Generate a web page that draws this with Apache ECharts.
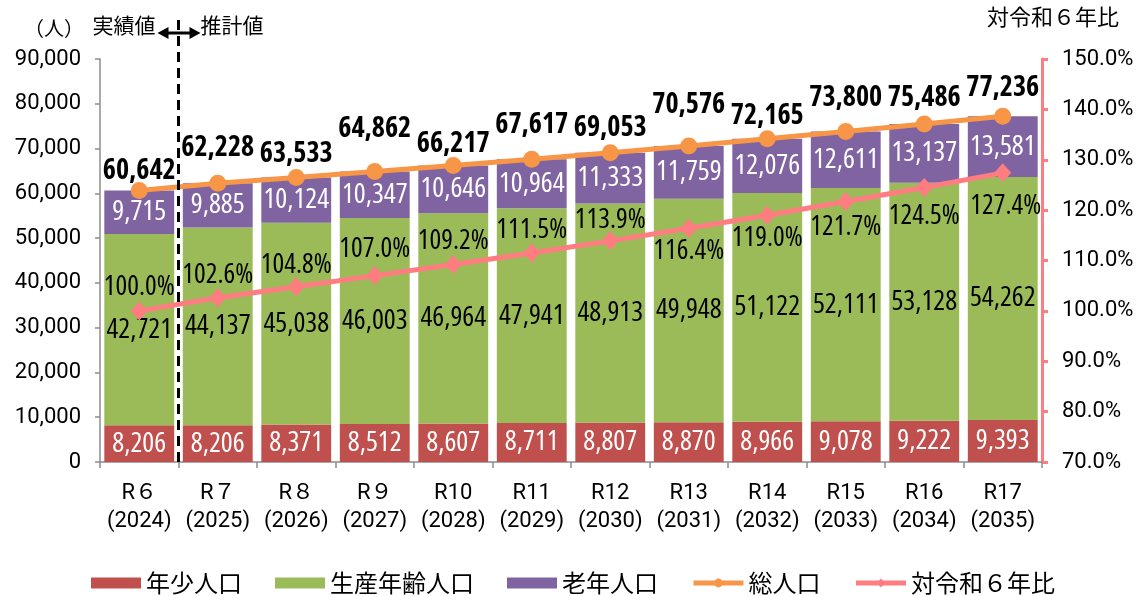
<!DOCTYPE html>
<html>
<head>
<meta charset="utf-8">
<script src="https://cdn.jsdelivr.net/npm/echarts@6/dist/echarts.min.js"></script>
<style>
  html, body { margin: 0; padding: 0; background: #fff; }
  #chart { width: 1146px; height: 596px; }
</style>
</head>
<body>
<div id="chart"></div>
<script>
// 年度
const categories = ['R６\n(2024)', 'R７\n(2025)', 'R８\n(2026)', 'R９\n(2027)', 'R10\n(2028)', 'R11\n(2029)',
  'R12\n(2030)', 'R13\n(2031)', 'R14\n(2032)', 'R15\n(2033)', 'R16\n(2034)', 'R17\n(2035)'];
// 年齢区分別人口（人）
const youngPop   = [8206, 8206, 8371, 8512, 8607, 8711, 8807, 8870, 8966, 9078, 9222, 9393];
const workingPop = [42721, 44137, 45038, 46003, 46964, 47941, 48913, 49948, 51122, 52111, 53128, 54262];
const elderlyPop = [9715, 9885, 10124, 10347, 10646, 10964, 11333, 11759, 12076, 12611, 13137, 13581];
const totalPop   = [60642, 62228, 63533, 64862, 66217, 67617, 69053, 70576, 72165, 73800, 75486, 77236];
// 対令和６年比（%）
const ratioR6    = [100.0, 102.6, 104.8, 107.0, 109.2, 111.5, 113.9, 116.4, 119.0, 121.7, 124.5, 127.4];
// 軸目盛
const leftTicks  = { min: 0, max: 90000, step: 10000 };
const rightTicks = { min: 70, max: 150, step: 10 };

// ラベルの縦位置（点からのずらし量, px）
const totalLabelDy = [-19, -35, -23, -43, -21, -34, -25, -41, -23, -34, -26, -28];
const ratioLabelDy = [-24, -23, -22, -26, -23, -23, -21, 23, 23, 26, 29, 33];

const JP_FONT = '"Noto Sans CJK JP", sans-serif';
const WIDE_FAMILY = '"Roboto", "Noto Sans CJK JP", sans-serif';
const fmt = v => v.toLocaleString('en-US');

// 値ラベル用に幅の狭い書体を選ぶ（使えなければ Roboto）
const mctx = document.createElement('canvas').getContext('2d');
function textWidth(stretch, weight, size, family, text) {
  mctx.font = [stretch, weight, size + 'px', family].join(' ').trim();
  return mctx.measureText(text).width;
}
const SAMPLE = '0123456789,.%';
const baseW = textWidth('', 'normal', 100, '"Roboto"', SAMPLE);
const candidates = [
  { stretch: 'condensed', family: '"Roboto"' },
  { stretch: 'condensed', family: '"Open Sans"' },
  { stretch: '', family: '"Roboto Condensed"' },
  { stretch: '', family: '"Liberation Sans Narrow"' },
  { stretch: '', family: '"Open Sans Condensed"' },
  { stretch: 'condensed', family: '"Noto Sans"' },
  { stretch: 'condensed', family: '"Inter"' }
];
let numFace = { stretch: '', family: '"Roboto"' };
let best = baseW * 0.93;
candidates.forEach(c => {
  const w = textWidth(c.stretch, 'normal', 100, c.family + ', monospace', SAMPLE);
  const wm = textWidth('', 'normal', 100, 'monospace', SAMPLE);
  if (Math.abs(w - wm) > 0.5 && w < best) { best = w; numFace = c; }
});
const NUM_FAMILY = numFace.family + ', "Noto Sans CJK JP", sans-serif';
const NUM_STRETCH = numFace.stretch || 'normal';
// 字の大きさ：文字列が所定の幅を超えないように
function fitSize(text, width, weight, maxSize) {
  const w100 = textWidth(numFace.stretch, weight, 100, NUM_FAMILY, text);
  return Math.min(maxSize, Math.floor(width / w100 * 100 * 2) / 2);
}
const SZ_BAR   = fitSize('42,721', 66, 'normal', 28);
const SZ_TOTAL = fitSize('64,862', 74, 'bold', 28);
const SZ_RATIO = fitSize('100.0%', 72, 'normal', 28);

const chart = echarts.init(document.getElementById('chart'), null, { renderer: 'canvas' });

const numText = (size, extra) => Object.assign({
  fontFamily: NUM_FAMILY, fontStyle: NUM_STRETCH, fontSize: size
}, extra || {});

const barLabel = (color) => Object.assign({
  show: true, position: 'inside', color: color,
  formatter: p => fmt(p.value)
}, numText(SZ_BAR));

chart.setOption({
  animation: false,
  backgroundColor: '#ffffff',
  grid: { left: 100, right: 104, top: 59, bottom: 134, containLabel: false },
  legend: {
    left: 'center', top: 566,
    itemWidth: 50, itemHeight: 11, itemGap: 33,
    textStyle: { fontFamily: JP_FONT, fontSize: 24, color: '#000' },
    data: [
      { name: '年少人口', icon: 'rect' },
      { name: '生産年齢人口', icon: 'rect' },
      { name: '老年人口', icon: 'rect' },
      { name: '総人口', lineStyle: { width: 5 } },
      { name: '対令和６年比', lineStyle: { width: 5 } }
    ]
  },
  xAxis: {
    type: 'category', data: categories,
    axisLine: { lineStyle: { color: '#8c8c8c', width: 1.5 } },
    axisTick: { show: true, length: 6, lineStyle: { color: '#8c8c8c', width: 1.5 } },
    axisLabel: {
      color: '#000', lineHeight: 28, margin: 17, interval: 0,
      fontFamily: WIDE_FAMILY, fontSize: 22
    }
  },
  yAxis: [
    {
      type: 'value', min: leftTicks.min, max: leftTicks.max, interval: leftTicks.step,
      axisLine: { show: true, lineStyle: { color: '#8c8c8c', width: 1.5 } },
      axisTick: { show: true, length: 5, lineStyle: { color: '#8c8c8c', width: 1.5 } },
      splitLine: { show: false },
      axisLabel: {
        color: '#000', margin: 19, formatter: v => fmt(v),
        fontFamily: WIDE_FAMILY, fontSize: 22
      }
    },
    {
      type: 'value', min: rightTicks.min, max: rightTicks.max, interval: rightTicks.step,
      position: 'right',
      axisLine: { show: true, lineStyle: { color: '#FF7C80', width: 3 } },
      axisTick: { show: true, length: 6, lineStyle: { color: '#FF7C80', width: 3 } },
      splitLine: { show: false },
      axisLabel: {
        color: '#000', margin: 20, formatter: v => v.toFixed(1) + '%',
        fontFamily: WIDE_FAMILY, fontSize: 22
      }
    }
  ],
  series: [
    {
      name: '年少人口', type: 'bar', stack: 'pop', data: youngPop,
      barCategoryGap: '11%',
      itemStyle: { color: '#C0504D' }, label: barLabel('#ffffff')
    },
    {
      name: '生産年齢人口', type: 'bar', stack: 'pop', data: workingPop,
      itemStyle: { color: '#9BBB59' }, label: barLabel('#000000')
    },
    {
      name: '老年人口', type: 'bar', stack: 'pop', data: elderlyPop,
      itemStyle: { color: '#8064A2' }, label: barLabel('#ffffff')
    },
    {
      name: '総人口', type: 'line', yAxisIndex: 0, z: 5,
      data: totalPop.map((v, i) => ({
        value: v,
        label: { offset: [0, totalLabelDy[i]] }
      })),
      symbol: 'circle', symbolSize: 17,
      lineStyle: { color: '#F79646', width: 5 },
      itemStyle: { color: '#F79646' },
      label: Object.assign({
        show: true, position: 'inside', color: '#000', fontWeight: 'bold',
        formatter: p => fmt(p.value)
      }, numText(SZ_TOTAL))
    },
    {
      name: '対令和６年比', type: 'line', yAxisIndex: 1, z: 4,
      data: ratioR6.map((v, i) => ({
        value: v,
        label: { offset: [i === ratioR6.length - 1 ? 3 : 0, ratioLabelDy[i]] }
      })),
      symbol: 'diamond', symbolSize: [17, 19],
      lineStyle: { color: '#FF7C80', width: 5 },
      itemStyle: { color: '#FF7C80' },
      label: Object.assign({
        show: true, position: 'inside', color: '#000',
        formatter: p => p.value.toFixed(1) + '%'
      }, numText(SZ_RATIO))
    }
  ]
});

// 実績値／推計値の境界線（R６とR７の間）
const xA = chart.convertToPixel({ xAxisIndex: 0 }, 0);
const xB = chart.convertToPixel({ xAxisIndex: 0 }, 1);
const xm = (xA + xB) / 2;
const yBottom = chart.convertToPixel({ yAxisIndex: 0 }, 0);
const ay = 33;

chart.setOption({
  graphic: [
    {
      type: 'line', z: 100,
      shape: { x1: xm, y1: 20, x2: xm, y2: yBottom },
      style: { stroke: '#000', lineWidth: 3, lineDash: [10, 6] }
    },
    {
      type: 'line', z: 100,
      shape: { x1: xm - 12, y1: ay, x2: xm + 12, y2: ay },
      style: { stroke: '#000', lineWidth: 3 }
    },
    {
      type: 'polygon', z: 100,
      shape: { points: [[xm - 21, ay], [xm - 10, ay - 6], [xm - 10, ay + 6]] },
      style: { fill: '#000' }
    },
    {
      type: 'polygon', z: 100,
      shape: { points: [[xm + 22, ay], [xm + 11, ay - 6], [xm + 11, ay + 6]] },
      style: { fill: '#000' }
    },
    {
      type: 'text', z: 100, left: 24, top: 18,
      style: { text: '（人）', fontFamily: JP_FONT, fontSize: 20, fill: '#000' }
    },
    {
      type: 'text', z: 100, right: 1146 - (xm - 23), top: 15,
      style: { text: '実績値', fontFamily: JP_FONT, fontSize: 21, fill: '#000' }
    },
    {
      type: 'text', z: 100, left: xm + 22, top: 15,
      style: { text: '推計値', fontFamily: JP_FONT, fontSize: 21, fill: '#000' }
    },
    {
      type: 'text', z: 100, left: 987, top: 6,
      style: { text: '対令和６年比', fontFamily: JP_FONT, fontSize: 22, fill: '#000' }
    }
  ]
});
</script>
</body>
</html>
